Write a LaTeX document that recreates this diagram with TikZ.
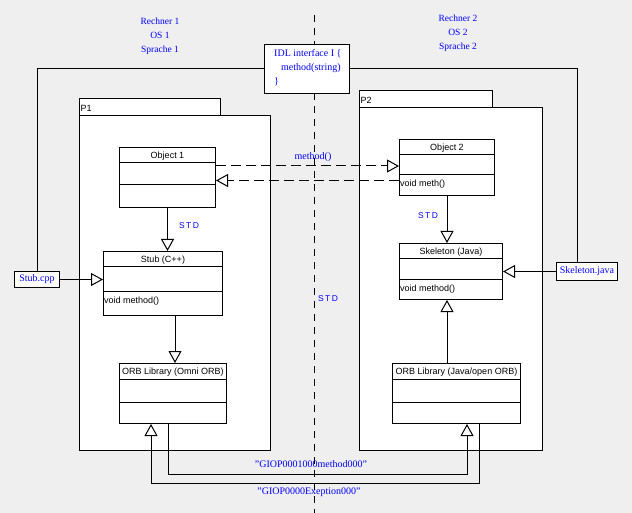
\documentclass[tikz,border=0pt]{standalone}
\usepackage{fontspec}
\setmainfont{Liberation Serif}
\setsansfont{Liberation Sans}
\usetikzlibrary{arrows.meta}
\definecolor{bgc}{RGB}{239,239,239}
\definecolor{umlblue}{RGB}{0,0,255}
\tikzset{
  lw/.style={line width=1pt},
  cls/.style={draw, fill=white, lw, inner sep=0pt, anchor=north west},
  pkg/.style={draw, fill=white, lw},
  ctitle/.style={font=\sffamily\fontsize{9}{10}\selectfont, inner sep=0pt},
  cop/.style={font=\sffamily\fontsize{9}{10}\selectfont, inner sep=0pt, anchor=west},
  btxt/.style={text=umlblue, font=\rmfamily\fontsize{10}{12}\selectfont, inner sep=0pt},
  stdtxt/.style={text=umlblue, font=\sffamily\fontsize{8.5}{10}\selectfont, inner sep=0pt},
  inh/.style={lw, -{Triangle[open, length=12pt, width=13pt]}},
  dline/.style={lw, dash pattern=on 10pt off 5pt},
  sep/.style={lw},
}
\newcommand\umlclass[8]{%
  \node[cls, minimum width=#4pt, minimum height=#5pt] (#1) at (#2,#3) {};
  \draw[sep] ([yshift=-#6pt]#1.north west) -- ([yshift=-#6pt]#1.north east);
  \draw[sep] ([yshift=-#7pt]#1.north west) -- ([yshift=-#7pt]#1.north east);
  \node[ctitle] (#1-t) at ([yshift=-9pt]#1.north) {#8};
}
\begin{document}
\begin{tikzpicture}[x=1pt, y=-1pt]
\fill[bgc] (0,0) rectangle (632,513);
\useasboundingbox (0,0) rectangle (632,513);

% separation line
\coordinate (vtop) at (314,15);
\coordinate (vbot) at (314,513);
\draw[lw, dash pattern=on 7pt off 6pt] (vtop) -- (vbot);

% computer labels
\node[btxt, align=center, font=\rmfamily\fontsize{9.5}{14}\selectfont] (r1) at (160,36.5) {Rechner 1\\OS 1\\Sprache 1};
\node[btxt, align=center, font=\rmfamily\fontsize{9.5}{14}\selectfont] (r2) at (458,33.5) {Rechner 2\\OS 2\\Sprache 2};

% packages
\draw[pkg] (79,99) rectangle (220,116);
\draw[pkg] (79,116) rectangle (270,450);
\node[ctitle, anchor=west] (p1) at (80.5,108) {P1};
\draw[pkg] (359,91) rectangle (492,108);
\draw[pkg] (359,108) rectangle (542,450);
\node[ctitle, anchor=west] (p2) at (360.5,100) {P2};

% IDL box
\node[cls, minimum width=85pt, minimum height=49pt] (idl) at (264,44) {};
\node[btxt, anchor=west, align=left, font=\rmfamily\fontsize{10}{14}\selectfont] (idltxt) at (274,67.5)
  {IDL interface I \{\\\hspace*{7pt}method(string)\\\}};

% files
\node[cls, minimum width=45pt, minimum height=16pt] (stubcpp) at (14,271) {};
\node[btxt] (stubcpp-t) at (stubcpp.center) {Stub.cpp};
\node[cls, minimum width=61pt, minimum height=18pt] (skjava) at (556,262) {};
\node[btxt] (skjava-t) at (skjava.center) {Skeleton.java};

% classes
\umlclass{o1}{119}{147}{96}{60}{16}{38}{Object 1}
\umlclass{o2}{399}{139}{95}{56}{16}{36}{Object 2}
\node[cop] (o2-op) at (400,184) {void meth()};
\umlclass{stub}{103}{251}{119}{64}{16}{40}{Stub (C++)}
\node[cop] (stub-op) at (104,301) {void method()};
\umlclass{skel}{399}{243}{103}{56}{16}{36}{Skeleton (Java)}
\node[cop] (skel-op) at (400,289) {void method()};
\umlclass{orb1}{119}{363}{107}{60}{16}{39}{ORB Library (Omni ORB)}
\umlclass{orb2}{392}{363}{128}{60}{16}{39}{ORB Library (Java/open ORB)}

% IDL connectors
\coordinate (rx) at (577,0);
\draw[lw] (idl.west) -| (stubcpp.north);
\draw[lw] (idl.east) -| (rx |- skjava.north);

% generalisations
\draw[inh] (o1.south) -- (o1.south |- stub.north);
\node[stdtxt] (std1) at (189,226) {S\,T\,D};
\coordinate (sx) at (175,0);
\draw[inh] (sx |- stub.south) -- (sx |- orb1.north);
\draw[inh] (stubcpp.east) -- (stubcpp.east -| stub.west);

\coordinate (kx) at (447,0);
\draw[inh] (kx |- o2.south) -- (kx |- skel.north);
\node[stdtxt] (std2) at (428,216) {S\,T\,D};
\draw[inh] (kx |- orb2.north) -- (kx |- skel.south);
\draw[inh] (skjava.west) -- (skjava.west -| skel.east);

% remote calls
\coordinate (d1) at (0,166);
\coordinate (d2) at (0,180.5);
\draw[dline, inh] (o1.east |- d1) -- (o2.west |- d1);
\draw[dline, inh] (o2.west |- d2) -- (o1.east |- d2);
\node[btxt] (mlab) at (313,157) {method()};
\node[stdtxt] (std3) at (328,299) {S\,T\,D};

% GIOP
\coordinate (ga) at (168,474);
\coordinate (gb) at (467,474);
\coordinate (gc) at (479,483);
\coordinate (gd) at (151,483);
\draw[inh] (orb1.south -| ga) -- (ga) -- (gb) -- (orb2.south -| gb);
\draw[inh] (orb2.south -| gc) -- (gc) -- (gd) -- (orb1.south -| gd);
\node[btxt] (giop1) at (311,464) {"GIOP0001000method000"};
\node[btxt] (giop2) at (309,492) {"GIOP0000Exeption000"};
\end{tikzpicture}
\end{document}
